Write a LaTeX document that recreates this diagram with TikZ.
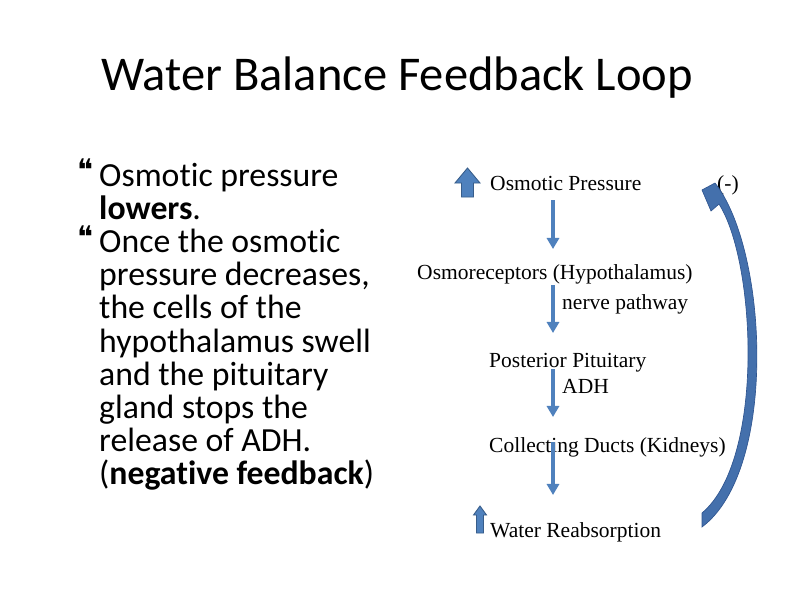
\documentclass[tikz,border=0pt]{standalone}
\usepackage{fontspec}
\setmainfont[Ligatures=NoCommon]{Carlito}
\newfontfamily\serifr{Liberation Serif}
\newfontfamily\symf{DejaVu Sans}
\usetikzlibrary{arrows.meta}
\definecolor{arrblue}{HTML}{4F81BD}
\definecolor{arredge}{HTML}{385D8A}
\definecolor{curvblue}{HTML}{4470AC}
\definecolor{curvedge}{HTML}{2F5590}
\begin{document}
\begin{tikzpicture}[x=0.9068pt,y=-0.9068pt,
  lbl/.style={anchor=base west, inner sep=0pt, font=\serifr\fontsize{19.5}{22}\selectfont},
  bodytext/.style={anchor=base west, inner sep=0pt, font=\fontsize{30.6}{31}\selectfont},
  bulletmark/.style={anchor=north west, inner sep=0pt, font=\symf\fontsize{27}{27}\selectfont},
  flow/.style={draw=arrblue, line width=3.6pt, -{Triangle[width=11pt,length=10pt]}},
  blockarrow/.style={fill=arrblue, draw=arredge, line width=0.8pt},
  bigarrow/.style={fill=curvblue, draw=curvedge, line width=0.6pt}]
\useasboundingbox (0,0) rectangle (794,595);
\fill[white] (0,0) rectangle (794,595);

% title
\node[anchor=base, inner sep=0pt, font=\fontsize{44}{44}\selectfont] (title) at (397,90) {Water Balance Feedback Loop};

% left bullets
\node[bulletmark] (b1) at (77,159) {❝};
\node[bulletmark] (b2) at (77,226) {❝};
\node[bodytext] (l1) at (99,186) {Osmotic pressure};
\node[bodytext] (l2) at (99,219.2) {\textbf{lowers}.};
\node[bodytext] (l3) at (99,252.4) {Once the osmotic};
\node[bodytext] (l4) at (99,285.6) {pressure decreases,};
\node[bodytext] (l5) at (99,318.8) {the cells of the};
\node[bodytext] (l6) at (99,352) {hypothalamus swell};
\node[bodytext] (l7) at (99,385.2) {and the pituitary};
\node[bodytext] (l8) at (99,418.4) {gland stops the};
\node[bodytext] (l9) at (99,451.6) {release of ADH.};
\node[bodytext] (l10) at (99,484.8) {(\textbf{negative feedback})};

% right flow labels
\node[lbl] (op) at (490,190) {Osmotic Pressure};
\node[lbl] (neg) at (717,190) {(-)};
\node[lbl] (osm) at (417,279) {Osmoreceptors (Hypothalamus)};
\node[lbl] (nerve) at (562,309) {nerve pathway};
\node[lbl] (pp) at (489,367) {Posterior Pituitary};
\node[lbl] (adh) at (562,393) {ADH};
\node[lbl] (cd) at (489,452) {Collecting Ducts (Kidneys)};
\node[lbl] (wr) at (490,537) {Water Reabsorption};

% connector end points
\coordinate (a1s) at (553,200);
\coordinate (a1e) at (553,249);
\coordinate (a2s) at (553,285);
\coordinate (a2e) at (553,333);
\coordinate (a3s) at (553,369);
\coordinate (a3e) at (553,417);
\coordinate (a4s) at (553,442);
\coordinate (a4e) at (553,495);
\draw[flow] (a1s) -- (a1e);
\draw[flow] (a2s) -- (a2e);
\draw[flow] (a3s) -- (a3e);
\draw[flow] (a4s) -- (a4e);

% up block arrows
\draw[blockarrow] (467.5,168) -- (480,183) -- (473.5,183) -- (473.5,197) -- (461.5,197) -- (461.5,183) -- (455,183) -- cycle;
\draw[blockarrow] (480,506) -- (486.5,515) -- (483.5,515) -- (483.5,533) -- (476.5,533) -- (476.5,515) -- (473.5,515) -- cycle;

% big curved feedback arrow
\draw[bigarrow] (702,190) -- (715,183)
  .. controls (768,250) and (778,470) .. (702,527)
  -- (702,513)
  .. controls (765,460) and (756,262) .. (719,204)
  -- (711,211) -- cycle;
\end{tikzpicture}
\end{document}
